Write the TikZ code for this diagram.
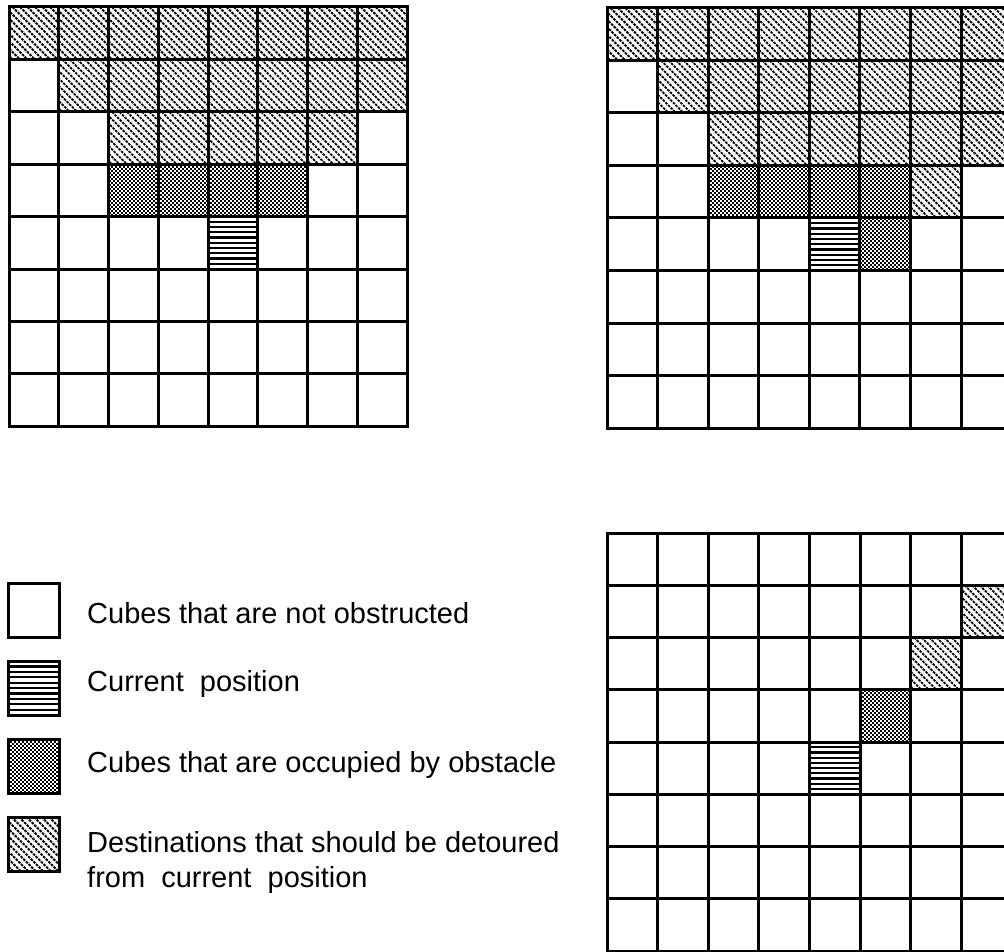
\documentclass[tikz,border=0pt]{standalone}
\usepackage{fontspec}
\setmainfont{Liberation Sans}
\tikzset{
  gridline/.style={line width=3pt, line cap=rect, draw=black},
  hatchline/.style={line width=1.8pt, dash pattern=on 2.6pt off 1.1pt},
  dotline/.style={line width=1.7pt, dash pattern=on 2pt off 2pt},
  hline/.style={line width=2.2pt},
  legendbox/.style={draw=black, line width=3pt},
  legendtext/.style={font=\fontsize{29}{34}\selectfont, anchor=base west, inner sep=0pt},
}
\newcommand\HatchAt[4]{\begin{scope}\clip (#1,#2) rectangle ++(#3,#4);
  \foreach \t in {-64,-56.5,...,60} {\draw[hatchline] ({#1+\t},#2) -- ++(64,64);}
  \end{scope}}
\newcommand\DotsAt[4]{\begin{scope}\clip (#1,#2) rectangle ++(#3,#4);
  \pgfmathsetmacro\dx{round(#1)}\pgfmathsetmacro\dy{round(#2)}
  \foreach \j in {0,...,28} {\pgfmathsetmacro\ph{2*mod(\j,2)}
    \draw[dotline, dash phase=\ph pt] (\dx-4,{\dy+1+2*\j}) -- ++(#3+8,0);}
  \end{scope}}
\newcommand\LinesAt[4]{\foreach \k in {1,...,9} {\draw[hline] (#1,{#2+\k*#4/10}) -- ++(#3,0);}}
\newcommand\CellAt[3]{\pgfmathsetmacro\cx{\gx+#2*\gw}\pgfmathsetmacro\cy{\gy+#3*\gh}#1{\cx}{\cy}{\gw}{\gh}}
\newcommand\GridAt{\foreach \i in {0,...,8} {
    \draw[gridline] ({\gx+\i*\gw},\gy) -- ({\gx+\i*\gw},{\gy+8*\gh});
    \draw[gridline] (\gx,{\gy+\i*\gh}) -- ({\gx+8*\gw},{\gy+\i*\gh});}}
\begin{document}
\begin{tikzpicture}[x=1pt,y=-1pt]
\useasboundingbox (0,0) rectangle (1004,952);
\clip (0,0) rectangle (1004,952);
\fill[white] (0,0) rectangle (1004,952);
% ---- grid 1
\def\gx{9}\def\gy{7}\def\gw{49.75}\def\gh{52.4}
\foreach \c in {0,...,7} {\CellAt\HatchAt{\c}{0}}
\foreach \c in {1,...,7} {\CellAt\HatchAt{\c}{1}}
\foreach \c in {2,...,6} {\CellAt\HatchAt{\c}{2}}
\foreach \c in {2,...,5} {\CellAt\DotsAt{\c}{3}}
\CellAt\LinesAt{4}{4}
\GridAt
% ---- grid 2
\def\gx{607}\def\gy{8}\def\gw{50.57}\def\gh{52.5}
\foreach \c in {0,...,7} {\CellAt\HatchAt{\c}{0}}
\foreach \c in {1,...,7} {\CellAt\HatchAt{\c}{1}}
\foreach \c in {2,...,7} {\CellAt\HatchAt{\c}{2}}
\CellAt\HatchAt{6}{3}
\foreach \c in {2,...,5} {\CellAt\DotsAt{\c}{3}}
\CellAt\DotsAt{5}{4}
\CellAt\LinesAt{4}{4}
\GridAt
% ---- grid 3
\def\gx{607}\def\gy{533}\def\gw{50.6}\def\gh{52.25}
\CellAt\HatchAt{7}{1}
\CellAt\HatchAt{6}{2}
\CellAt\DotsAt{5}{3}
\CellAt\LinesAt{4}{4}
\GridAt
% ---- legend
\LinesAt{8}{661}{51}{54}
\DotsAt{8}{739}{51}{54}
\HatchAt{8}{817}{51}{54}
\draw[legendbox] (8,583) rectangle (59,637);
\draw[legendbox] (8,661) rectangle (59,715);
\draw[legendbox] (8,739) rectangle (59,793);
\draw[legendbox] (8,817) rectangle (59,871);
\node[legendtext] (t1) at (87,623) {Cubes that are not obstructed};
\node[legendtext] (t2) at (87,691) {Current~ position};
\node[legendtext] (t3) at (87,772) {Cubes that are occupied by obstacle};
\node[legendtext] (t4) at (87,852) {Destinations that should be detoured};
\node[legendtext] (t5) at (87,887) {from~ current~ position};
\end{tikzpicture}
\end{document}
